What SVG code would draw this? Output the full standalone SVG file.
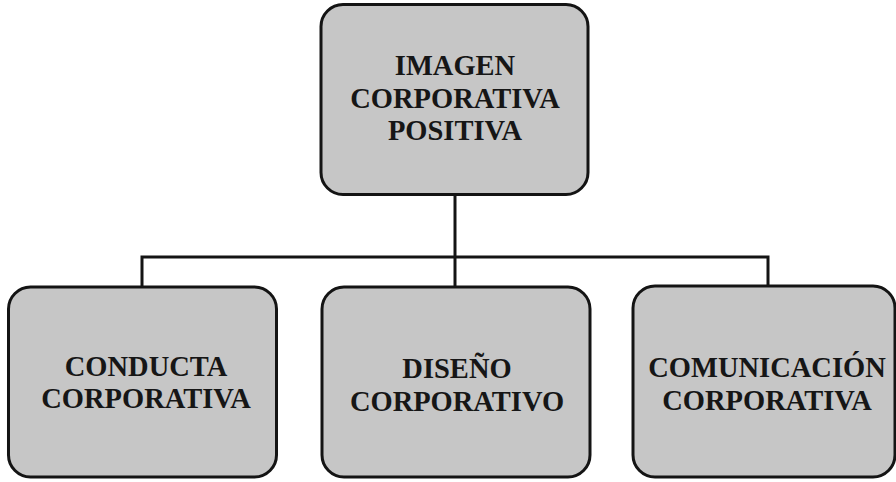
<svg xmlns="http://www.w3.org/2000/svg" width="896" height="482" viewBox="0 0 896 482">
<style>
.box{fill:#c6c6c6;stroke:#141414;stroke-width:3}
.lbl{font-family:"Liberation Serif","Times New Roman",serif;font-weight:bold;font-size:28.5px;fill:#161616;text-anchor:middle}
.conn{fill:none;stroke:#141414;stroke-width:3}
</style>
<rect width="896" height="482" fill="#ffffff"/>
<g id="connectors">
<path class="conn" d="M455 195 V257"/>
<path class="conn" d="M142 287 V257 H768 V286"/>
<path class="conn" d="M455 257 V287"/>
</g>
<g id="top">
<rect class="box" x="321" y="4.5" width="267" height="190" rx="22"/>
<text class="lbl" x="455" y="75">IMAGEN</text>
<text class="lbl" x="455" y="108">CORPORATIVA</text>
<text class="lbl" x="455" y="140">POSITIVA</text>
</g>
<g id="conducta">
<rect class="box" x="8.5" y="287" width="268" height="190" rx="22"/>
<text class="lbl" x="146" y="376">CONDUCTA</text>
<text class="lbl" x="146" y="408">CORPORATIVA</text>
</g>
<g id="diseno">
<rect class="box" x="322" y="287" width="268" height="190" rx="22"/>
<text class="lbl" x="457" y="378">DISEÑO</text>
<text class="lbl" x="457" y="411">CORPORATIVO</text>
</g>
<g id="comunicacion">
<rect class="box" x="633" y="286" width="262" height="191" rx="22"/>
<text class="lbl" x="767" y="377">COMUNICACIÓN</text>
<text class="lbl" x="767" y="410">CORPORATIVA</text>
</g>
</svg>
